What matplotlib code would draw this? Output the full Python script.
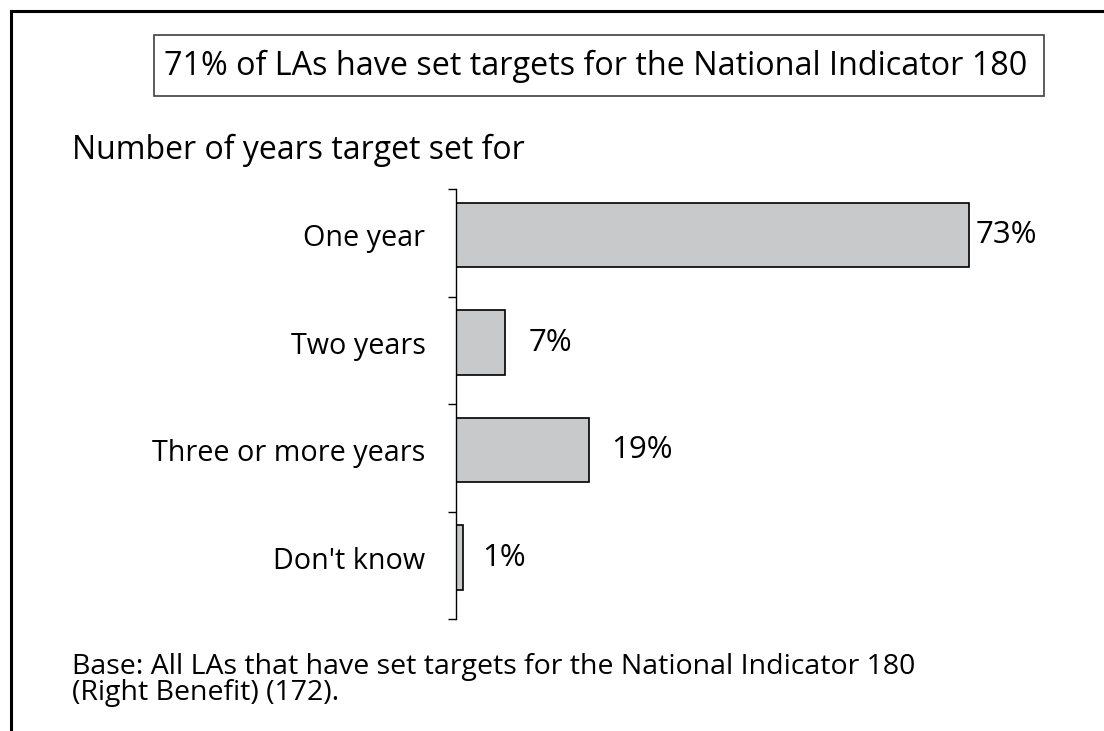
import numpy as np
import matplotlib.pyplot as plt
from matplotlib.lines import Line2D
from matplotlib.patches import Rectangle

plt.rcParams['font.family'] = ['Open Sans', 'DejaVu Sans']

title = '71% of LAs have set targets for the National Indicator 180'
subtitle = 'Number of years target set for'
note_lines = ['Base: All LAs that have set targets for the National Indicator 180',
              '(Right Benefit) (172).']

categories = ['One year', 'Two years', 'Three or more years', "Don't know"]
values = [73, 7, 19, 1]
labels = ['73%', '7%', '19%', '1%']

W, H = 1104, 731
fig = plt.figure(figsize=(W / 100, H / 100), dpi=100)

# outer frame (top and left edge only)
fig.add_artist(Line2D([11 / W, 1], [1 - 10.5 / H] * 2, color='black', lw=2.2,
                      transform=fig.transFigure))
fig.add_artist(Line2D([11 / W] * 2, [0, 1 - 10.5 / H], color='black', lw=2.2,
                      transform=fig.transFigure))

# boxed headline
fig.add_artist(Rectangle((154 / W, 1 - 96 / H), 890 / W, 61 / H, fill=False,
                         ec='#404040', lw=1.2, transform=fig.transFigure))
fig.text(596 / W, 1 - 66 / H, title, ha='center', va='center', fontsize=23.3)

fig.text(72 / W, 1 - 150 / H, subtitle, ha='left', va='center', fontsize=23)

for i, line in enumerate(note_lines):
    fig.text(72 / W, 1 - (674 + 26 * i) / H, line, ha='left', va='baseline',
             fontsize=20.5)

ax = fig.add_axes([456 / W, 1 - 619 / H, (1088 - 456) / W, (619 - 189) / H])
y = np.arange(len(categories))
ax.barh(y, values, height=0.6, color='#c8c9cb', edgecolor='black', linewidth=1.2)

offsets = [5, 17, 16, 14]
for yi, v, lab, off in zip(y, values, labels, offsets):
    ax.annotate(lab, (v, yi), xytext=(off, 0), textcoords='offset points',
                ha='left', va='center', fontsize=22.5)

# category separators sit a little above the bar centre spacing
shift = 0.43
ax.set_xlim(0, 90)
ax.set_ylim(len(categories) - shift, -shift)
ax.set_yticks(np.arange(len(categories) + 1) - shift)
ax.set_yticklabels([])
ax.set_yticks(y, minor=True)
ax.set_yticklabels(categories, minor=True, fontsize=20.7)
ax.tick_params(axis='y', which='major', length=6, width=1, direction='out')
ax.tick_params(axis='y', which='minor', length=0, pad=22)
ax.set_xticks([])
for s in ['top', 'right', 'bottom']:
    ax.spines[s].set_visible(False)
ax.spines['left'].set_linewidth(1)

plt.savefig('out.png', dpi=100)
